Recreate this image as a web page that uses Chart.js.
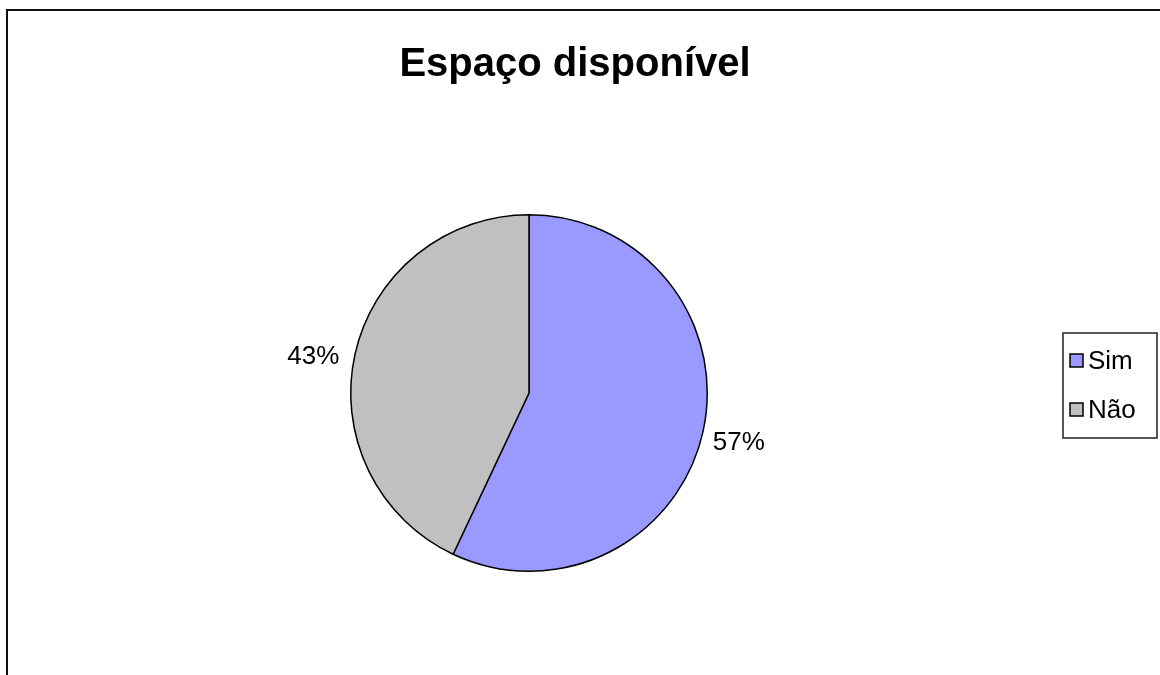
<!DOCTYPE html>
<html>
<head>
<meta charset="utf-8">
<script src="https://cdn.jsdelivr.net/npm/chart.js@4"></script>
<style>
  html, body { margin: 0; padding: 0; background: #fff; overflow: hidden; }
  #frame { position: absolute; left: 6px; top: 9px; width: 1170px; height: 680px; border: 2px solid #111; }
  #pie { position: absolute; left: 0; top: 0; }
</style>
</head>
<body>
<div id="frame"></div>
<canvas id="pie" width="1160" height="675"></canvas>
<script>
const titleText = "Espaço disponível";
const labels = ["Sim", "Não"];
const values = [57, 43];
const colors = ["#9999FF", "#C0C0C0"];

const font = "'Liberation Sans', Arial, sans-serif";

// title, outside % labels and boxed legend drawn on top of the pie
const decorations = {
  id: "decorations",
  afterDraw(chart) {
    const ctx = chart.ctx;
    ctx.save();
    ctx.fillStyle = "#000";
    ctx.textAlign = "center";
    ctx.textBaseline = "alphabetic";
    ctx.font = "bold 40px " + font;
    ctx.fillText(titleText, 575, 76);

    const total = values.reduce((a, b) => a + b, 0);
    ctx.font = "26px " + font;
    ctx.textBaseline = "middle";
    chart.getDatasetMeta(0).data.forEach((arc, i) => {
      const mid = (arc.startAngle + arc.endAngle) / 2;
      const r = arc.outerRadius + 10;
      const ax = arc.x + Math.cos(mid) * r;
      const ay = arc.y + Math.sin(mid) * r;
      const pct = Math.round(values[i] / total * 100) + "%";
      const left = Math.cos(mid) < 0;
      ctx.textAlign = left ? "right" : "left";
      ctx.fillText(pct, left ? ax - 6 : ax, ay + (left ? 5 : 9));
    });

    // legend
    const lx = 1063, ly = 333, lw = 94, lh = 105;
    ctx.lineWidth = 1.5;
    ctx.strokeStyle = "#222";
    ctx.strokeRect(lx, ly, lw, lh);
    ctx.textAlign = "left";
    labels.forEach((lab, i) => {
      const cy = 361 + i * 49;
      ctx.fillStyle = colors[i];
      ctx.fillRect(lx + 7, cy - 7, 13, 13);
      ctx.strokeStyle = "#000";
      ctx.strokeRect(lx + 7, cy - 7, 13, 13);
      ctx.fillStyle = "#000";
      ctx.fillText(lab, lx + 25, cy + 1);
    });
    ctx.restore();
  }
};

new Chart(document.getElementById("pie"), {
  type: "pie",
  data: {
    labels,
    datasets: [{
      data: values,
      backgroundColor: colors,
      borderColor: "#000",
      borderWidth: 1.5
    }]
  },
  options: {
    responsive: false,
    animation: false,
    layout: { padding: { left: 350, right: 452, top: 214, bottom: 103 } },
    plugins: {
      legend: { display: false },
      title: { display: false },
      tooltip: { enabled: false }
    }
  },
  plugins: [decorations]
});
</script>
</body>
</html>
